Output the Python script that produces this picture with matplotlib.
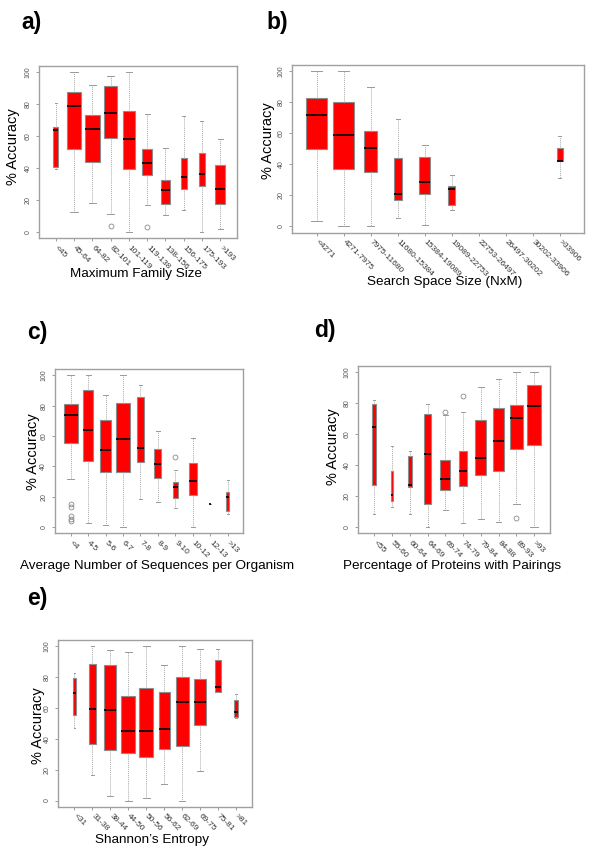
import numpy as np
import matplotlib.pyplot as plt

plt.rcParams['font.family'] = ['Liberation Sans', 'DejaVu Sans']

W, H = 600, 867

# a) Maximum Family Size
labels_a = ['<45', '45-64', '64-82', '82-101', '101-119', '119-138',
            '138-156', '156-175', '175-193', '>193']
lo_a = [39.3, 12.4, 18.1, 11.1, 0, 16.6, 10.9, 13.9, 0, 1.7]
q1_a = [40.8, 52.1, 43.7, 59.0, 39.5, 35.7, 17.6, 26.7, 28.6, 17.2]
med_a = [63.7, 78.8, 64.3, 74.6, 58.0, 43.5, 26.3, 34.2, 36.3, 26.7]
q3_a = [66.0, 87.4, 73.3, 91.6, 75.8, 51.9, 32.6, 46.4, 49.2, 41.8]
hi_a = [81.1, 100, 92.0, 97.5, 100, 73.9, 52.7, 72.9, 69.3, 58.4]
out_a = [[], [], [], [4.0], [], [2.9], [], [], [], []]
n_a = [11, 100, 98, 83, 64, 51, 38, 17, 17, 44]

# b) Search Space Size (NxM)
labels_b = ['<4271', '4271-7975', '7975-11680', '11680-15384', '15384-19089',
            '19089-22753', '22753-26497', '26497-30202', '30202-33906', '>33906']
lo_b = [3.5, 0, 0, 5.8, 1.1, 10.4, None, None, None, 31.2]
q1_b = [49.8, 37.2, 35.3, 17.3, 20.8, 13.6, None, None, None, 42.0]
med_b = [71.9, 59.1, 50.4, 21.2, 29.0, 24.5, None, None, None, 42.0]
q3_b = [82.9, 80.5, 61.5, 43.9, 44.6, 26.4, None, None, None, 50.9]
hi_b = [100, 100, 90.0, 69.3, 52.4, 33.5, None, None, None, 58.2]
out_b = [[], [], [], [], [], [], [], [], [], []]
n_b = [100, 100, 38, 14, 26, 10, 0, 0, 0, 8]

# c) Average Number of Sequences per Organism
labels_c = ['<4', '4-5', '5-6', '6-7', '7-8', '8-9', '9-10', '10-12', '12-13', '>13']
lo_c = [31.6, 2.6, 1.3, 0, 18.4, 16.4, 12.7, 0, 15.3, 9.0]
q1_c = [55.3, 43.4, 36.4, 36.4, 43.0, 32.7, 19.3, 21.5, 15.3, 11.0]
med_c = [73.9, 64.3, 51.1, 57.9, 52.4, 41.4, 26.3, 30.3, 15.3, 19.7]
q3_c = [80.9, 90.1, 70.4, 81.6, 85.5, 51.5, 29.6, 42.1, 15.3, 23.2]
hi_c = [100, 100, 87.3, 100, 93.4, 63.2, 38.0, 58.8, 15.3, 31.1]
out_c = [[15.6, 13.0, 7.2, 5.7, 3.9], [], [], [], [], [], [46.5], [], [], []]
n_c = [100, 48, 63, 90, 29, 24, 15, 34, 2, 7]

# d) Percentage of Proteins with Pairings
labels_d = ['<55', '55-60', '60-64', '64-69', '69-74', '74-79', '79-84',
            '84-88', '89-93', '>93']
lo_d = [8.6, 12.7, 8.6, 0, 10.8, 2.8, 5.0, 3.5, 15.1, 0]
q1_d = [27.4, 16.6, 25.7, 14.7, 24.0, 26.6, 33.9, 36.5, 50.1, 52.7]
med_d = [64.4, 21.0, 27.0, 46.9, 30.9, 36.5, 44.7, 55.3, 70.2, 78.2]
q3_d = [79.7, 36.5, 45.6, 72.8, 43.6, 49.2, 69.3, 77.1, 78.8, 91.6]
hi_d = [82.3, 52.3, 49.0, 79.3, 72.4, 74.1, 90.3, 95.7, 100, 100]
out_d = [[], [], [], [], [74.3], [84.4], [], [], [5.8], []]
n_d = [8, 4, 10, 20, 46, 31, 62, 55, 86, 100]

# e) Shannon's Entropy
labels_e = ['<31', '31-38', '38-44', '44-50', '50-56', '56-62', '62-69',
            '69-75', '75-81', '>81']
lo_e = [47.2, 16.8, 3.0, 0, 1.5, 11.0, 0, 19.2, 70.5, 53.4]
q1_e = [55.2, 36.4, 32.5, 31.0, 28.0, 33.6, 35.6, 48.9, 70.5, 53.9]
med_e = [69.6, 59.3, 58.8, 44.8, 45.0, 46.6, 63.8, 63.8, 73.3, 57.3]
q3_e = [79.1, 88.4, 87.7, 67.7, 72.8, 70.0, 80.2, 78.7, 91.2, 64.9]
hi_e = [82.5, 100, 97.6, 96.3, 100, 88.1, 100, 98.1, 98.1, 69.0]
out_e = [[], [], [], [], [], [], [], [], [], []]
n_e = [6, 27, 70, 100, 95, 58, 81, 66, 19, 6]


def px_rect(l, t, r, b):
    return [l / W, 1 - b / H, (r - l) / W, (b - t) / H]


def box_panel(fig, rect, tag, tag_xy, xlabel, xlabel_xy, ylabel_xy,
              labels, lo, q1, med, q3, hi, out, n):
    ax = fig.add_axes(px_rect(*rect))
    nmax = max(n)
    stats, pos, widths = [], [], []
    for i in range(len(labels)):
        if n[i] == 0:
            continue
        stats.append(dict(whislo=lo[i], q1=q1[i], med=med[i], q3=q3[i],
                          whishi=hi[i], fliers=out[i]))
        pos.append(i + 1)
        widths.append(0.8 * np.sqrt(n[i] / nmax))
    ax.bxp(stats, positions=pos, widths=widths,
           capwidths=[w * 0.5 for w in widths],
           patch_artist=True, manage_ticks=False,
           boxprops=dict(facecolor='#ff0000', edgecolor='#8c8c8c', linewidth=0.8),
           medianprops=dict(color='black', linewidth=1.2),
           whiskerprops=dict(color='#ababab', linewidth=0.7, linestyle=(0, (1, 1))),
           capprops=dict(color='#999999', linewidth=0.7),
           flierprops=dict(marker='o', markerfacecolor='none',
                           markeredgecolor='#8a8a8a', markersize=3.5,
                           markeredgewidth=0.6))
    ax.set_xlim(0.1, len(labels) + 0.9)
    ax.set_ylim(-4, 104)
    ax.set_yticks([0, 20, 40, 60, 80, 100])
    ax.set_yticklabels(['0', '20', '40', '60', '80', '100'], rotation=90,
                       va='center', fontsize=5, color='#555555')
    ax.set_xticks(range(1, len(labels) + 1))
    ax.set_xticklabels(labels, rotation=-45, ha='left', va='center',
                       rotation_mode='anchor', fontsize=6, color='#333333')
    ax.tick_params(axis='both', length=2.5, width=0.6, color='#8c8c8c')
    ax.tick_params(axis='y', pad=3)
    ax.tick_params(axis='x', pad=3.5)
    for sp in ax.spines.values():
        sp.set_color('#a0a0a0')
        sp.set_linewidth(1.0)

    fig.text(tag_xy[0] / W, 1 - tag_xy[1] / H, tag, fontsize=16.5,
             fontweight='bold', ha='left', va='center')
    fig.text(xlabel_xy[0] / W, 1 - xlabel_xy[1] / H, xlabel, fontsize=9.7,
             ha='center', va='center')
    fig.text(ylabel_xy[0] / W, 1 - ylabel_xy[1] / H, '% Accuracy', fontsize=10.5,
             rotation=90, ha='center', va='center')
    return ax


fig = plt.figure(figsize=(W / 100, H / 100), dpi=100)

box_panel(fig, (39.3, 66, 236.7, 238.3), 'a)', (21, 23),
          'Maximum Family Size', (136, 274), (13, 147),
          labels_a, lo_a, q1_a, med_a, q3_a, hi_a, out_a, n_a)
box_panel(fig, (292.3, 65.3, 584.3, 232.7), 'b)', (266, 22),
          'Search Space Size (NxM)', (445, 282), (268, 141),
          labels_b, lo_b, q1_b, med_b, q3_b, hi_b, out_b, n_b)
box_panel(fig, (55, 369.3, 243.3, 533.3), 'c)', (27, 332),
          'Average Number of Sequences per Organism', (157, 566), (33, 452),
          labels_c, lo_c, q1_c, med_c, q3_c, hi_c, out_c, n_c)
box_panel(fig, (358.3, 366, 550, 533.3), 'd)', (314, 331),
          'Percentage of Proteins with Pairings', (452, 566), (333, 447),
          labels_d, lo_d, q1_d, med_d, q3_d, hi_d, out_d, n_d)
box_panel(fig, (58.3, 640, 252, 806.7), 'e)', (27, 598),
          'Shannon\u2019s Entropy', (152, 840), (38, 726),
          labels_e, lo_e, q1_e, med_e, q3_e, hi_e, out_e, n_e)

fig.savefig('out.png', dpi=100)
